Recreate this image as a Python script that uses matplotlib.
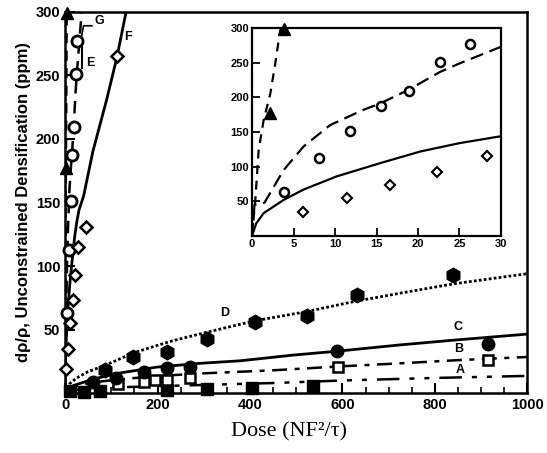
import numpy as np
import matplotlib
matplotlib.use('Agg')
import matplotlib.pyplot as plt
from matplotlib.ticker import MultipleLocator

plt.rcParams['font.family'] = ['Liberation Sans', 'DejaVu Sans']

# --- data ---
# A: filled squares, long dash dot dot fit
a_x = [10, 40, 75, 220, 307, 404, 537]
a_y = [2, 1, 2, 2.5, 3.5, 4, 5.5]
a_fit_x = [0, 30, 100, 200, 300, 450, 600, 800, 1000]
a_fit_y = [0, 3, 4.5, 5.5, 6.5, 8, 10, 12, 13.6]

# B: open squares, dash dot fit
b_x = [115, 170, 195, 220, 270, 590, 916]
b_y = [7, 9, 10, 10.5, 12, 21, 26.5]
b_fit_x = [0, 20, 60, 120, 200, 292, 450, 590, 725, 850, 1000]
b_fit_y = [0, 5, 8.5, 11, 13.5, 15.5, 18, 21, 23.5, 26, 28.5]

# C: filled circles, solid fit
c_x = [60, 110, 170, 220, 270, 588, 916]
c_y = [9, 12, 17, 19.5, 21, 33, 39]
c_fit_x = [0, 18, 60, 112, 198, 292, 379, 494, 588, 725, 840, 1000]
c_fit_y = [0, 6, 11, 15.5, 20.5, 23.5, 25.5, 30, 33, 38, 41.7, 46.5]

# D: filled hexagons, dotted fit
d_x = [87, 146, 220, 307, 411, 523, 631, 840]
d_y = [18, 28.6, 32.5, 43, 56, 61, 77, 93]
d_fit_x = [0, 10, 25, 50, 87, 150, 230, 307, 411, 520, 624, 730, 840, 1000]
d_fit_y = [0, 7.5, 12, 17, 22, 32, 41, 48, 57, 64, 72, 79, 86, 94]

# E: open circles, dashed fit
e_x = [3.8, 8.1, 11.8, 15.6, 18.9, 22.7, 26.3]
e_y = [63, 113, 151, 187, 209, 251, 277]
e_fit_x = [0, 0.3, 1.5, 3.8, 6.2, 9.4, 13.4, 15.4, 18.7, 22.7, 25, 30, 36]
e_fit_y = [0, 45, 48, 95, 129, 160, 182, 191, 210, 237, 249, 273, 300]

# F: open diamonds, solid fit (inset shows only the low-dose ones)
f_x = [3, 6.2, 11.5, 16.6, 22.3, 28.3, 45, 112]
f_y = [19, 34.5, 55, 73, 93, 115, 131, 265]
f_in_x = [6.2, 11.5, 16.6, 22.3, 28.3]
f_in_y = [34.5, 55, 73, 93, 115]
f_fit_x = [0, 0.5, 1.4, 3.8, 6.2, 10.2, 15.4, 20.3, 25, 30, 40, 60, 90, 112, 132]
f_fit_y = [0, 18, 33, 52, 67, 86, 105, 122, 134, 144, 155, 190, 231, 264, 300]

# G: filled triangles, dashed fit
g_x = [2.2, 3.8]
g_y = [177, 299]
g_fit_x = [0, 0.4, 0.8, 1.4, 2.2, 2.8, 3.4, 3.6]
g_fit_y = [0, 52, 124, 167, 205, 249, 297, 300]

fig = plt.figure(figsize=(5.47, 4.53), dpi=100)
ax = fig.add_axes([0.119, 0.132, 0.845, 0.842])

lw = 1.8
ax.plot(a_fit_x, a_fit_y, color='k', lw=lw, ls=(0, (9, 4, 2, 4, 2, 4)))
ax.plot(b_fit_x, b_fit_y, color='k', lw=lw, ls=(0, (6, 3, 2, 3)))
ax.plot(c_fit_x, c_fit_y, color='k', lw=2.0, ls='-')
ax.plot(d_fit_x, d_fit_y, color='k', lw=2.0, ls=(0, (1, 0.8)))
ax.plot(e_fit_x, e_fit_y, color='k', lw=lw, ls=(0, (5, 3)))
ax.plot(f_fit_x, f_fit_y, color='k', lw=2.0, ls='-')
ax.plot(g_fit_x, g_fit_y, color='k', lw=lw, ls=(0, (4, 3)))

ax.plot(a_x, a_y, 's', color='k', ms=8, clip_on=False, zorder=5)
ax.plot(b_x, b_y, 's', mfc='white', mec='k', mew=1.8, ms=7, clip_on=False, zorder=5)
ax.plot(c_x, c_y, 'o', color='k', ms=9, clip_on=False, zorder=5)
ax.plot(d_x, d_y, 'h', color='k', ms=10.5, clip_on=False, zorder=5)
ax.plot(e_x, e_y, 'o', mfc='white', mec='k', mew=2, ms=8, clip_on=False, zorder=6)
ax.plot(f_x, f_y, 'D', mfc='white', mec='k', mew=1.8, ms=6, clip_on=False, zorder=6)
ax.plot(g_x, g_y, '^', color='k', ms=9, clip_on=False, zorder=6)

# curve labels
lab = dict(fontsize=9, fontweight='bold', ha='center', va='center')
ax.text(346, 63, 'D', **lab)
ax.text(851, 52, 'C', **lab)
ax.text(851, 35, 'B', **lab)
ax.text(855, 18, 'A', **lab)
ax.text(137, 280, 'F', **lab)
ax.text(75, 293, 'G', **lab)
ax.plot([30, 40, 58], [270, 289, 289], color='k', lw=1.2)
ax.text(55, 260, 'E', **lab)
ax.plot([37, 37], [256, 274], color='k', lw=1.5)

ax.set_xlim(0, 1000)
ax.set_ylim(0, 300)
ax.set_xticks([0, 200, 400, 600, 800, 1000])
ax.set_yticks([50, 100, 150, 200, 250, 300])
ax.xaxis.set_minor_locator(MultipleLocator(50))
ax.tick_params(direction='in', length=7, width=1.5, labelsize=10.5)
ax.tick_params(which='minor', direction='in', length=4, width=1.2)
for lbl in ax.get_xticklabels() + ax.get_yticklabels():
    lbl.set_fontweight('bold')
for s in ax.spines.values():
    s.set_linewidth(1.8)

ax.set_xlabel('Dose (NF²/τ)', family='Liberation Serif', fontsize=16, labelpad=3)
ax.xaxis.set_label_coords(0.485, -0.075)
ax.set_ylabel('dρ/ρ, Unconstrained Densification (ppm)', fontsize=12,
              fontweight='bold', labelpad=3)

# inset
ins = fig.add_axes([0.4607, 0.479, 0.4552, 0.459])
ins.plot(e_fit_x, e_fit_y, color='k', lw=1.6, ls=(0, (6, 3)))
ins.plot(f_fit_x, f_fit_y, color='k', lw=1.6, ls='-')
ins.plot(g_fit_x, g_fit_y, color='k', lw=1.6, ls=(0, (4, 3)))
ins.plot(e_x, e_y, 'o', mfc='white', mec='k', mew=1.8, ms=6.5, clip_on=False)
ins.plot(f_in_x, f_in_y, 'D', mfc='white', mec='k', mew=1.5, ms=5.5, clip_on=False)
ins.plot(g_x, g_y, '^', color='k', ms=9, clip_on=False, zorder=6)
ins.set_xlim(0, 30)
ins.set_ylim(0, 300)
ins.set_xticks([0, 5, 10, 15, 20, 25, 30])
ins.set_yticks([50, 100, 150, 200, 250, 300])
ins.tick_params(direction='in', length=6, width=1.3, labelsize=8, pad=2)
for lbl in ins.get_xticklabels() + ins.get_yticklabels():
    lbl.set_fontweight('bold')
for s in ins.spines.values():
    s.set_linewidth(1.6)

fig.savefig('out.png', dpi=100)
